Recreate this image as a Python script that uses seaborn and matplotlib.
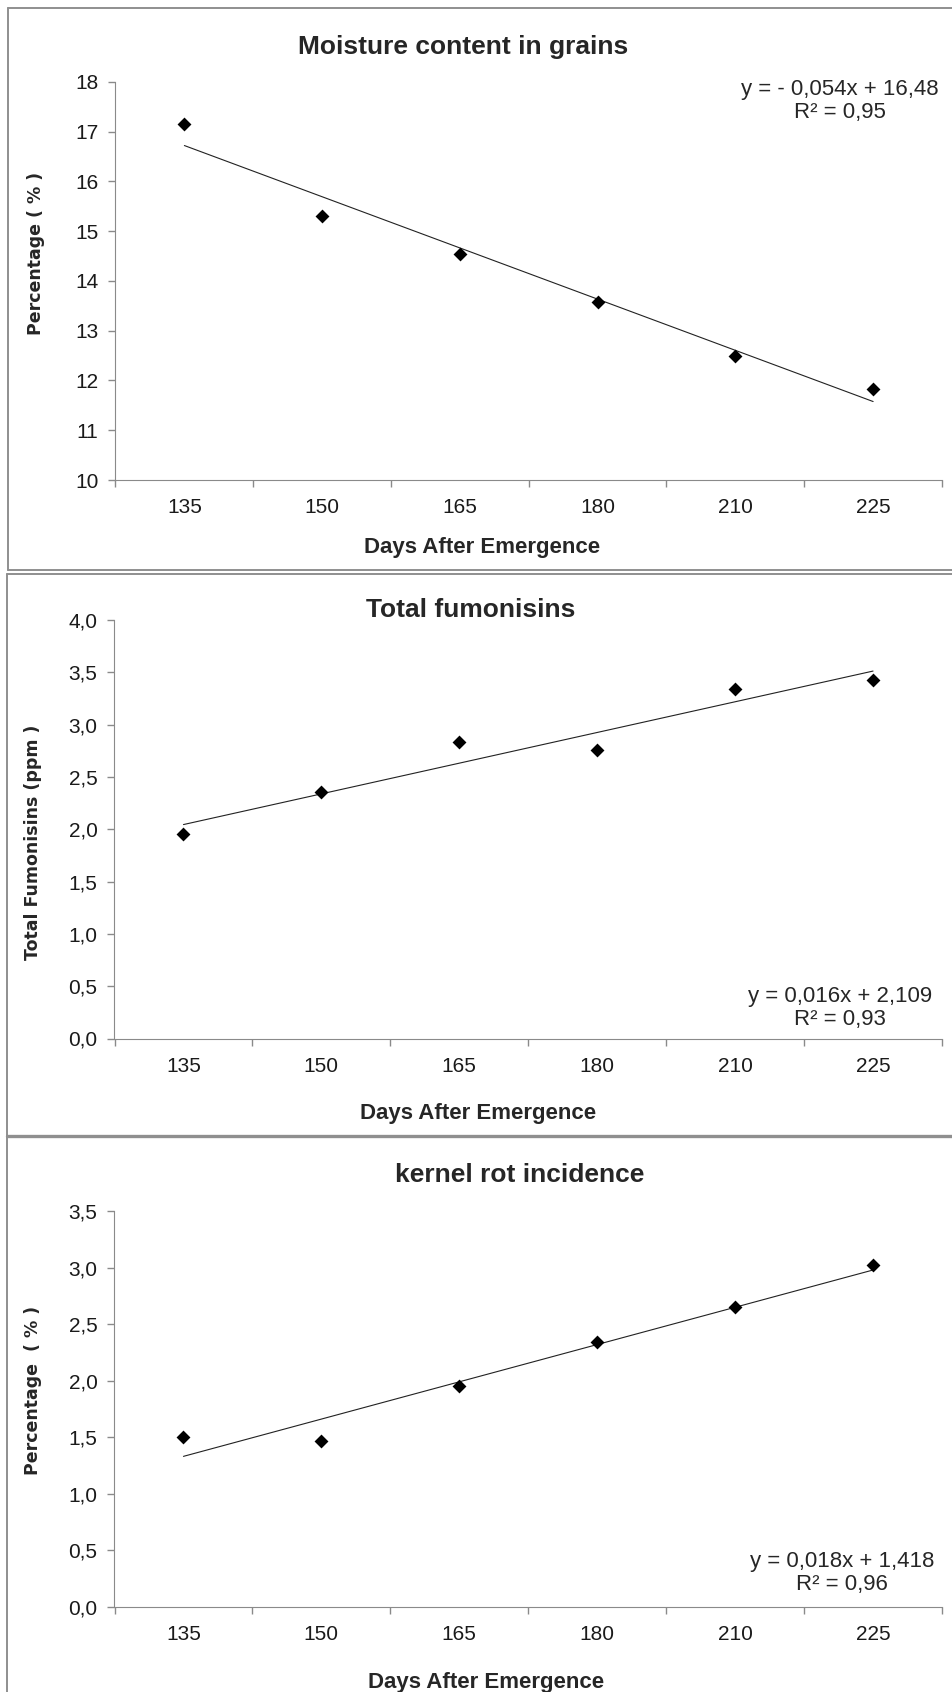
import numpy as np
import matplotlib.pyplot as plt
import seaborn as sns
from matplotlib.lines import Line2D
from matplotlib.ticker import FixedLocator, FuncFormatter

# Días después de la emergencia (eje categórico)
days = ['135', '150', '165', '180', '210', '225']

# Valores
moisture = [17.15, 15.30, 14.55, 13.58, 12.50, 11.82]
fumonisins = [1.95, 2.36, 2.83, 2.76, 3.34, 3.43]
kernel_rot = [1.50, 1.47, 1.95, 2.34, 2.65, 3.02]

titles = ['Moisture content in grains', 'Total fumonisins', 'kernel rot incidence']
ylabels = ['Percentage ( % )', 'Total Fumonisins (ppm )', 'Percentage  ( % )']
equations = ['y = - 0,054x + 16,48\nR² = 0,95',
             'y = 0,016x + 2,109\nR² = 0,93',
             'y = 0,018x + 1,418\nR² = 0,96']
yticks = [np.arange(10, 18.5, 1), np.arange(0, 4.25, 0.5), np.arange(0, 3.75, 0.5)]
decimals = [0, 1, 1]

sns.set_style('ticks')
plt.rcParams['font.family'] = ['Liberation Sans', 'DejaVu Sans']

W, H = 953, 1692
fig = plt.figure(figsize=(W / 100, H / 100), dpi=100)


def fx(x):
    return x / W


def fy(y):
    return 1 - y / H


# posiciones de los ejes en píxeles: (izq, der, arriba, abajo)
boxes = [(115.5, 942, 82, 480), (114.5, 942, 620, 1038.5), (114.5, 942, 1211, 1607)]
title_pos = [(463, 47), (471, 610), (520, 1175)]
ylabel_pos = [(36, 253), (33, 842), (33, 1390)]
xlabel_pos = [(482, 547), (478, 1114), (486, 1682)]
eq_pos = [(840, 101), (840, 1008), (842, 1573)]

series = [moisture, fumonisins, kernel_rot]
pos = np.arange(len(days))
axis_gray = '#8a8a8a'

for i, vals in enumerate(series):
    l, r, t, b = boxes[i]
    ax = fig.add_axes([fx(l), fy(b), fx(r) - fx(l), (b - t) / H])
    sns.regplot(x=pos, y=vals, ax=ax, ci=None, marker='D', color='black',
                scatter_kws={'s': 50, 'zorder': 3, 'linewidths': 0, 'alpha': 1},
                line_kws={'lw': 0.8, 'color': '#222222'})
    ax.set_xlim(-0.5, len(days) - 0.5)
    ax.set_ylim(yticks[i][0], yticks[i][-1])
    ax.set_yticks(yticks[i])
    d = decimals[i]
    ax.yaxis.set_major_formatter(FuncFormatter(
        lambda v, p, d=d: f'{v:.{d}f}'.replace('.', ',')))
    # marcas entre categorías, etiquetas en el centro
    ax.xaxis.set_major_locator(FixedLocator(np.arange(-0.5, len(days), 1)))
    ax.xaxis.set_major_formatter(FuncFormatter(lambda v, p: ''))
    ax.xaxis.set_minor_locator(FixedLocator(pos))
    ax.set_xticklabels(days, minor=True)
    ax.tick_params(axis='x', which='major', length=5, width=1, color=axis_gray)
    ax.tick_params(axis='x', which='minor', length=0, pad=13.3, labelsize=15,
                   labelcolor='#1a1a1a')
    ax.tick_params(axis='y', length=5.4, width=1, color=axis_gray, pad=6.8,
                   labelsize=15, labelcolor='#1a1a1a')
    ax.set_xlabel('')
    ax.set_ylabel('')
    sns.despine(ax=ax)
    for s in ['left', 'bottom']:
        ax.spines[s].set_color(axis_gray)
        ax.spines[s].set_linewidth(0.8)
    ax.patch.set_alpha(0)

    fig.text(fx(title_pos[i][0]), fy(title_pos[i][1]), titles[i], ha='center',
             va='center', fontsize=19, fontweight='bold')
    fig.text(fx(ylabel_pos[i][0]), fy(ylabel_pos[i][1]), ylabels[i], rotation=90,
             ha='center', va='center', fontsize=12.5, fontweight='bold',
             family=['DejaVu Sans'])
    fig.text(fx(xlabel_pos[i][0]), fy(xlabel_pos[i][1]), 'Days After Emergence',
             ha='center', va='center', fontsize=16, fontweight='bold')
    fig.text(fx(eq_pos[i][0]), fy(eq_pos[i][1]), equations[i], ha='center',
             va='center', multialignment='center', fontsize=16, linespacing=1.1)

# marcos grises de cada panel
frame = '#8f8f8f'
segs = [((8.5, 8.5), (8.5, 570), 1.4), ((8.5, W), (8.5, 8.5), 1.4),
        ((8.5, W), (570, 570), 1.4),
        ((7.5, 7.5), (574, 1136), 1.4), ((7.5, W), (574, 574), 1.4),
        ((7.5, W), (1136, 1136), 2.4), ((7.5, 7.5), (1136, H), 1.4)]
for xs, ys, lw in segs:
    fig.add_artist(Line2D([fx(xs[0]), fx(xs[1])], [fy(ys[0]), fy(ys[1])],
                          transform=fig.transFigure, color=frame, lw=lw))

fig.savefig('out.png', dpi=100)
